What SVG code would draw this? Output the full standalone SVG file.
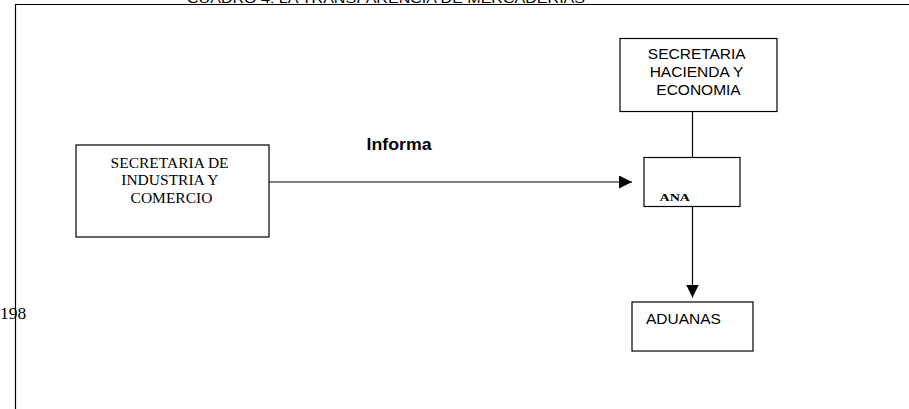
<svg xmlns="http://www.w3.org/2000/svg" width="909" height="409" viewBox="0 0 909 409">
<defs>
<style>
.box{fill:#fff;stroke:#000;stroke-width:1.2}
.ln{fill:none;stroke:#000;stroke-width:1.2}
.serif{font-family:"Liberation Serif","Times New Roman",serif;fill:#000}
.sans{font-family:"Liberation Sans",Arial,sans-serif;fill:#000}
</style>
<marker id="arr" viewBox="0 0 13 13" refX="13" refY="6.5" markerWidth="13" markerHeight="13" markerUnits="userSpaceOnUse" orient="auto">
<path d="M0,0 L13,6.5 L0,13 Z" fill="#000"/>
</marker>
</defs>
<rect width="909" height="409" fill="#fff"/>
<text class="sans" x="187" y="2.7" font-size="13" textLength="398" lengthAdjust="spacingAndGlyphs">CUADRO 4: LA TRANSPARENCIA DE MERCADERIAS</text>
<path class="ln" d="M15.5,409 V4.5 H909"/>
<text class="serif" x="0" y="319" font-size="17.5">198</text>
<g id="connectors">
<line class="ln" x1="269" y1="182" x2="632" y2="182" marker-end="url(#arr)"/>
<line class="ln" x1="692.5" y1="112" x2="692.5" y2="157"/>
<line class="ln" x1="692.5" y1="207" x2="692.5" y2="297.5" marker-end="url(#arr)"/>
<text class="sans" x="366.5" y="149.5" font-size="16" font-weight="bold" textLength="65" lengthAdjust="spacingAndGlyphs">Informa</text>
</g>
<g id="industria">
<rect class="box" x="76" y="145" width="193" height="92"/>
<text class="serif" font-size="15.5" text-anchor="middle">
<tspan x="171.5" y="168">SECRETARIA DE</tspan>
<tspan x="171.5" y="185">INDUSTRIA Y</tspan>
<tspan x="171.5" y="202.5">COMERCIO</tspan>
</text>
</g>
<g id="hacienda">
<rect class="box" x="620" y="38.5" width="157" height="73"/>
<text class="sans" font-size="15.5" text-anchor="middle">
<tspan x="698.5" y="58.5">SECRETARIA</tspan>
<tspan x="698.5" y="76.5">HACIENDA Y</tspan>
<tspan x="698.5" y="95">ECONOMIA</tspan>
</text>
</g>
<g id="ana">
<rect class="box" x="644" y="157.5" width="96" height="49"/>
<text class="serif" x="659.5" y="200.5" font-size="10.5" font-weight="bold" textLength="30.5" lengthAdjust="spacingAndGlyphs">ANA</text>
</g>
<g id="aduanas">
<rect class="box" x="632" y="302" width="121" height="49"/>
<text class="sans" x="646" y="323.5" font-size="15.5">ADUANAS</text>
</g>
</svg>
